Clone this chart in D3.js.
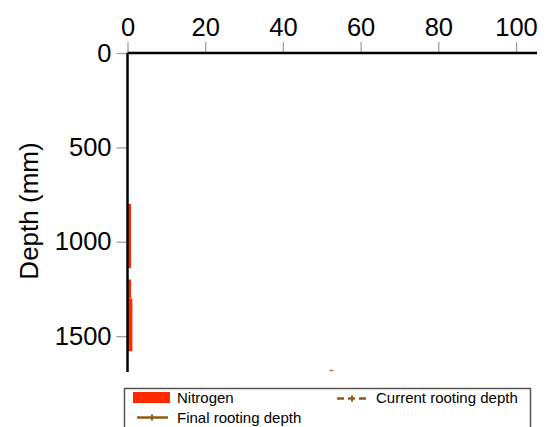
<!DOCTYPE html>
<html>
<head>
<meta charset="utf-8">
<script src="https://cdn.jsdelivr.net/npm/d3@7"></script>
<style>
	body { margin: 0; background: #fff; }
	svg { display: block; font-family: "Liberation Sans", Arial, sans-serif; }
</style>
</head>
<body>
<svg></svg>
<script>
// soil layers (mm) and nitrogen in each layer
const layerTop = [0, 800, 1140, 1200, 1300, 1580];
const layerBottom = [800, 1140, 1200, 1300, 1580, 1690];
const nitrogen = [0, 0.9, 0, 0.9, 1.25, 0];

const xTicks = [0, 20, 40, 60, 80, 100];
const yTicks = [0, 500, 1000, 1500];

// current rooting depth marker (mostly clipped at bottom)
const rootX = [52.5];
const rootDepth = [1682];

const legendItems = ['Nitrogen', 'Current rooting depth', 'Final rooting depth'];

const width = 554;
const height = 427;
const margin = { top: 53, left: 127.5 };
const innerWidth = 537 - margin.left;
const innerHeight = 372 - margin.top;

const brown = '#8f5a14';
const red = '#ff2a00';

const svg = d3.select('svg')
	.attr('width', width)
	.attr('height', height);

const xScale = d3.scaleLinear()
	.domain([0, 105.4])
	.range([0, innerWidth]);

const yScale = d3.scaleLinear()
	.domain([0, 1690])
	.range([0, innerHeight]);

const g = svg.append('g')
	.attr('transform', `translate(${margin.left},${margin.top})`);

// nitrogen bars
g.selectAll('rect.bar').data(nitrogen.map((v, i) => ({ v, top: layerTop[i], bottom: layerBottom[i] })))
	.enter().append('rect')
		.attr('class', 'bar')
		.attr('x', 0)
		.attr('y', d => yScale(d.top))
		.attr('width', d => xScale(d.v))
		.attr('height', d => yScale(d.bottom) - yScale(d.top))
		.attr('fill', red);

g.selectAll('line.root').data(rootX)
	.enter().append('line')
		.attr('class', 'root')
		.attr('x1', (d, i) => xScale(d) - 2)
		.attr('x2', (d, i) => xScale(d) + 2)
		.attr('y1', (d, i) => yScale(rootDepth[i]))
		.attr('y2', (d, i) => yScale(rootDepth[i]))
		.attr('stroke', brown)
		.attr('stroke-width', 1.5)
		.attr('opacity', 0.8);

const xAxis = d3.axisTop(xScale)
	.tickValues(xTicks)
	.tickFormat(d3.format('d'))
	.tickSize(11)
	.tickPadding(6);

const yAxis = d3.axisLeft(yScale)
	.tickValues(yTicks)
	.tickFormat(d3.format('d'))
	.tickSize(11)
	.tickPadding(5);

const xAxisGroup = g.append('g').call(xAxis);
const yAxisGroup = g.append('g').call(yAxis);

[xAxisGroup, yAxisGroup].forEach(a => {
	a.select('.domain').remove();
	a.selectAll('.tick line').attr('stroke', '#a0a0a0').attr('stroke-width', 1.3);
	a.selectAll('.tick text').attr('font-size', 25.5).attr('fill', '#000')
		.attr('font-family', '"Liberation Sans", Arial, sans-serif');
});

g.append('line')
	.attr('x1', 0).attr('x2', innerWidth)
	.attr('y1', 0).attr('y2', 0)
	.attr('stroke', '#000').attr('stroke-width', 2.5);

g.append('line')
	.attr('x1', 0).attr('x2', 0)
	.attr('y1', 0).attr('y2', innerHeight)
	.attr('stroke', '#000').attr('stroke-width', 2.5);

svg.append('text')
	.attr('transform', 'translate(38,211) rotate(-90)')
	.attr('text-anchor', 'middle')
	.attr('font-size', 26)
	.text('Depth (mm)');

// legend
const legend = svg.append('g');

legend.append('rect')
	.attr('x', 124.5).attr('y', 388.5)
	.attr('width', 406).attr('height', 60)
	.attr('fill', '#fff')
	.attr('stroke', '#555').attr('stroke-width', 1.5);

legend.append('rect')
	.attr('x', 133).attr('y', 392)
	.attr('width', 37).attr('height', 11)
	.attr('fill', red);

legend.append('text')
	.attr('x', 177).attr('y', 403)
	.attr('font-size', 15)
	.text(legendItems[0]);

legend.append('line')
	.attr('x1', 337).attr('x2', 367)
	.attr('y1', 398.5).attr('y2', 398.5)
	.attr('stroke', brown).attr('stroke-width', 2.5)
	.attr('stroke-dasharray', '7,4');

legend.append('line')
	.attr('x1', 352).attr('x2', 352)
	.attr('y1', 395.5).attr('y2', 401.5)
	.attr('stroke', brown).attr('stroke-width', 2);

legend.append('text')
	.attr('x', 376).attr('y', 403)
	.attr('font-size', 15)
	.text(legendItems[1]);

legend.append('line')
	.attr('x1', 137).attr('x2', 168)
	.attr('y1', 417.5).attr('y2', 417.5)
	.attr('stroke', brown).attr('stroke-width', 2.5);

legend.append('line')
	.attr('x1', 152).attr('x2', 152)
	.attr('y1', 414.5).attr('y2', 420.5)
	.attr('stroke', brown).attr('stroke-width', 2);

legend.append('text')
	.attr('x', 177).attr('y', 423)
	.attr('font-size', 15)
	.text(legendItems[2]);
</script>
</body>
</html>
